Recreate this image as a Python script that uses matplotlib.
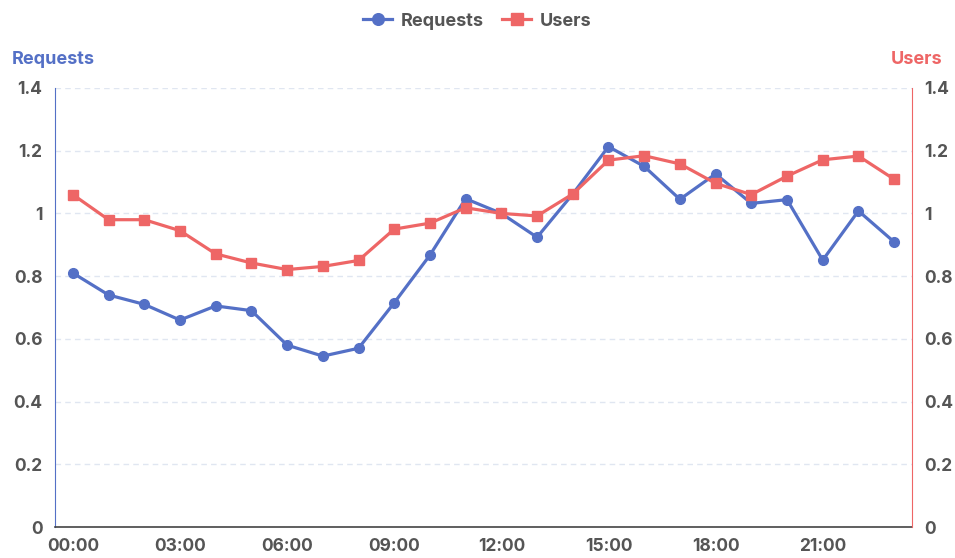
import matplotlib.pyplot as plt
from matplotlib.ticker import FuncFormatter, MultipleLocator

# hourly data
hours = [f"{h:02d}:00" for h in range(24)]
requests = [0.81, 0.74, 0.71, 0.66, 0.705, 0.69, 0.58, 0.545, 0.57, 0.715, 0.867, 1.047,
            1.0, 0.924, 1.062, 1.213, 1.15, 1.045, 1.126, 1.032, 1.044, 0.851, 1.008, 0.909]
users = [1.06, 0.98, 0.98, 0.945, 0.871, 0.842, 0.821, 0.831, 0.85, 0.95, 0.969, 1.018,
         1.0, 0.992, 1.062, 1.17, 1.184, 1.158, 1.096, 1.06, 1.119, 1.171, 1.183, 1.109]

BLUE = "#5470c6"
RED = "#ee6666"
TEXT = "#555555"
GRID = "#e0e6f1"

plt.rcParams['font.family'] = ['Inter', 'DejaVu Sans']

fig = plt.figure(figsize=(9.55, 5.58), dpi=100)
ax = fig.add_axes([55 / 955, 1 - 527 / 558, (912 - 55) / 955, (527 - 88) / 558])
ax2 = ax.twinx()

xs = list(range(len(hours)))
l1, = ax.plot(xs, requests, color=BLUE, lw=2.3, marker='o', ms=7, label="Requests", zorder=3)
l2, = ax2.plot(xs, users, color=RED, lw=2.3, marker='s', ms=7, label="Users", zorder=3)

for a in (ax, ax2):
    a.set_ylim(0, 1.4)
    a.yaxis.set_major_locator(MultipleLocator(0.2))
    a.yaxis.set_major_formatter(FuncFormatter(lambda v, p: f"{v:g}"))
    a.tick_params(axis='y', length=0, labelsize=12.5, labelcolor=TEXT)
    for lab in a.get_yticklabels():
        lab.set_fontweight('bold')
    a.spines['top'].set_visible(False)

ax.set_xlim(-0.5, 23.5)
ax.set_xticks(xs[::3])
ax.set_xticklabels(hours[::3])
ax.tick_params(axis='x', length=0, labelsize=12.5, labelcolor=TEXT, pad=8)
ax.tick_params(axis='y', pad=9)
ax2.tick_params(axis='y', pad=9)
for lab in ax.get_xticklabels():
    lab.set_fontweight('bold')

ax.grid(axis='y', color=GRID, ls=(0, (4, 3)), lw=1)
ax.set_axisbelow(True)

ax.spines['left'].set_color(BLUE)
ax.spines['right'].set_visible(False)
ax2.spines['left'].set_visible(False)
ax2.spines['right'].set_color(RED)
ax.spines['bottom'].set_color("#444444")
ax.spines['bottom'].set_linewidth(1.2)
ax2.spines['bottom'].set_visible(False)

fig.text(12 / 955, 1 - 60 / 558, "Requests", color=BLUE, fontsize=13, fontweight='bold',
         ha='left', va='center')
fig.text(942 / 955, 1 - 60 / 558, "Users", color=RED, fontsize=13, fontweight='bold',
         ha='right', va='center')

fig.legend(handles=[l1, l2], loc='center', bbox_to_anchor=(0.5, 1 - 21 / 558), ncol=2,
           frameon=False, handlelength=1.6, columnspacing=1.0, handletextpad=0.5,
           markerscale=1.2, prop={'size': 13, 'weight': 'bold'}, labelcolor=TEXT)

fig.savefig("out.png", dpi=100)
